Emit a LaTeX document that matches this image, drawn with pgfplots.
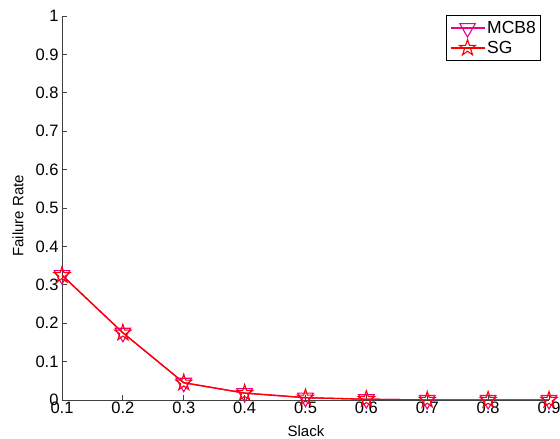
\documentclass[border=0pt]{standalone}
\usepackage{pgfplots}
\pgfplotsset{compat=1.18}
\usepackage{fontspec}
\setmainfont{Liberation Sans}
\pgfdeclareplotmark{pentagram}{%
  \pgfpathmoveto{\pgfpointpolar{90}{\pgfplotmarksize}}%
  \pgfpathlineto{\pgfpointpolar{126}{0.382\pgfplotmarksize}}%
  \pgfpathlineto{\pgfpointpolar{162}{\pgfplotmarksize}}%
  \pgfpathlineto{\pgfpointpolar{198}{0.382\pgfplotmarksize}}%
  \pgfpathlineto{\pgfpointpolar{234}{\pgfplotmarksize}}%
  \pgfpathlineto{\pgfpointpolar{270}{0.382\pgfplotmarksize}}%
  \pgfpathlineto{\pgfpointpolar{306}{\pgfplotmarksize}}%
  \pgfpathlineto{\pgfpointpolar{342}{0.382\pgfplotmarksize}}%
  \pgfpathlineto{\pgfpointpolar{18}{\pgfplotmarksize}}%
  \pgfpathlineto{\pgfpointpolar{54}{0.382\pgfplotmarksize}}%
  \pgfpathclose
  \pgfusepathqstroke
}
\begin{document}
\begin{tikzpicture}[font=\fontsize{15}{17}\selectfont]
\begin{axis}[
  at={(0pt,0pt)}, anchor=south west,
  scale only axis, width=487pt, height=384pt,
  xmin=0.1, xmax=0.9, ymin=0, ymax=1,
  axis x line*=bottom, axis y line*=left,
  axis line style={black!75, line width=0.8pt},
  xtick={0.1,0.2,...,0.9}, ytick={0,0.1,...,1},
  xticklabels={0.1,0.2,0.3,0.4,0.5,0.6,0.7,0.8,0.9},
  yticklabels={0,0.1,0.2,0.3,0.4,0.5,0.6,0.7,0.8,0.9,1},
  tick align=inside, major tick length=5pt,
  tick style={black!75, line width=0.8pt},
  every tick label/.append style={font=\fontsize{16.5}{18}\selectfont},
  xticklabel style={yshift=1.5pt},
  xlabel={Slack}, ylabel={Failure Rate},
  every axis x label/.style={at={(axis description cs:0.501,-0.0807)}, anchor=center, font=\fontsize{15}{17}\selectfont},
  every axis y label/.style={at={(axis description cs:-0.0903,0.48)}, anchor=center, rotate=90, font=\fontsize{15}{17}\selectfont},
  legend style={at={(0.984,1.003)}, anchor=north east, draw=black, line width=0.8pt, font=\fontsize{17.5}{19}\selectfont, inner xsep=3pt, inner ysep=4pt, row sep=2pt, cells={anchor=west}},
  legend cell align=left,
  legend image code/.code={%
    \draw[mark repeat=2,mark phase=2,#1] plot coordinates {(0pt,0pt) (17pt,0pt) (34pt,0pt)};},
]
\addplot[magenta, line width=1.3pt, mark=triangle, mark options={rotate=180, solid, fill=none, line width=1.1pt}, mark size=9pt]
 coordinates {(0.1,0.325) (0.2,0.175) (0.3,0.045) (0.4,0.018) (0.5,0.006) (0.6,0.002) (0.7,0) (0.8,0) (0.9,0)};
\addlegendentry{MCB8}
\addplot[red, line width=1.3pt, mark=pentagram, mark options={solid, line width=1.1pt}, mark size=8.5pt]
 coordinates {(0.1,0.325) (0.2,0.175) (0.3,0.045) (0.4,0.018) (0.5,0.006) (0.6,0.002) (0.7,0) (0.8,0) (0.9,0)};
\addlegendentry{SG}
\end{axis}
\pgfresetboundingbox
\path[use as bounding box] (-62pt,-39pt) rectangle (498pt,400pt);
\end{tikzpicture}
\end{document}
